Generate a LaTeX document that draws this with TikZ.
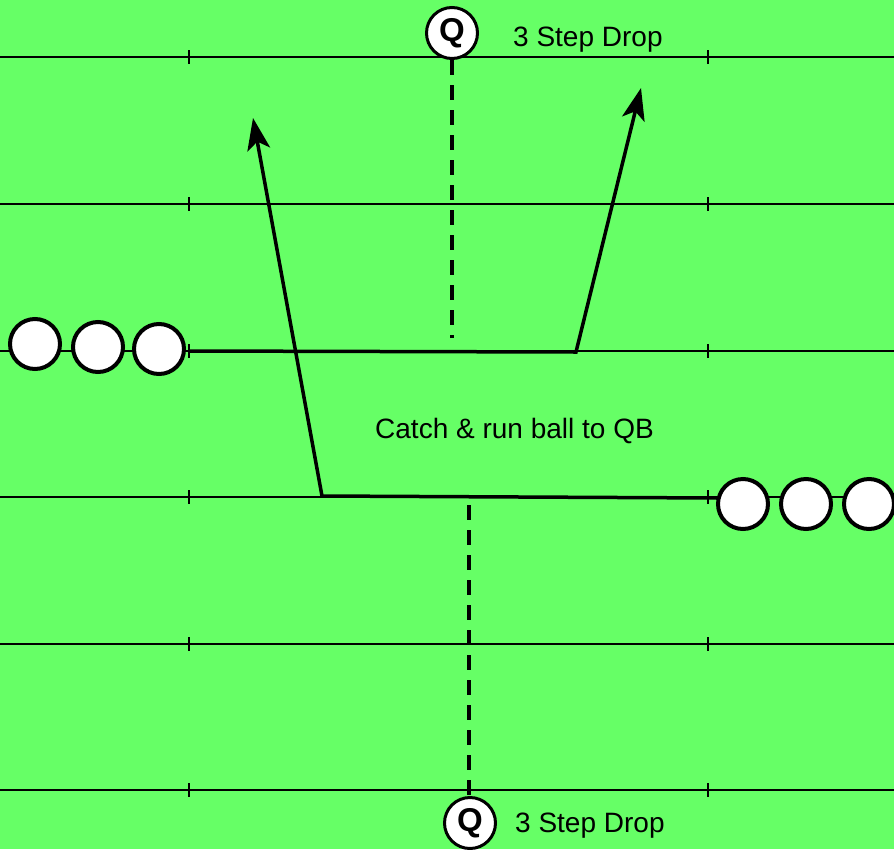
\documentclass[tikz,border=0pt]{standalone}
\usepackage{fontspec}
\setmainfont{Liberation Sans}
\usetikzlibrary{arrows.meta}
\definecolor{field}{HTML}{66FF66}
\begin{document}
\begin{tikzpicture}[x=1pt,y=-1pt,
  yard/.style={line width=1.8pt},
  yardtick/.style={line width=1.8pt},
  player/.style={circle,draw,fill=white,line width=4pt,minimum size=50pt,inner sep=0pt},
  qback/.style={player,line width=3pt,minimum size=51pt,font=\bfseries\fontsize{33}{36}\selectfont},
  route/.style={line width=3.5pt,line join=miter,-{Stealth[length=32pt,width=23pt,inset=8pt]}},
  drop/.style={line width=3.2pt,dash pattern=on 15pt off 10pt},
  lbl/.style={font=\fontsize{28}{30}\selectfont,inner sep=0pt}]
\fill[field] (0,0) rectangle (894,849);
\useasboundingbox (0,0) rectangle (894,849);
% yard lines and ticks
\foreach \y in {57,204,351,497,644,790}{
  \draw[yard] (0,\y) -- (894,\y);
  \draw[yardtick] (189,\y-7) -- (189,\y+7);
  \draw[yardtick] (708,\y-7) -- (708,\y+7);
}
% coordinates
\coordinate (s1) at (189,351);
\coordinate (b1) at (576,352);
\coordinate (t1) at (641,88);
\coordinate (s2) at (718,498);
\coordinate (b2) at (322,496);
\coordinate (t2) at (253,118);
\coordinate (d1s) at (452,60);
\coordinate (d1e) at (452,338);
\coordinate (d2s) at (469,505);
\coordinate (d2e) at (469,797);
% dashed drops
\draw[drop] (d1s) -- (d1e);
\draw[drop] (d2s) -- (d2e);
% routes
\draw[route] (s1) -- (b1) -- (t1);
\draw[route] (s2) -- (b2) -- (t2);
% players
\node[player] (lc1) at (35,344) {};
\node[player] (lc2) at (98,347) {};
\node[player] (lc3) at (159,349) {};
\node[player] (rc1) at (743,504) {};
\node[player] (rc2) at (806,504) {};
\node[player] (rc3) at (869,504) {};
\node[qback] (qt) at (452,33) {Q};
\node[qback] (qb) at (470,823) {Q};
% labels
\node[lbl,anchor=base west] (l1) at (513,46) {3 Step Drop};
\node[lbl,anchor=base west] (l2) at (515,832) {3 Step Drop};
\node[lbl,anchor=base west] (l3) at (375,438) {Catch \& run ball to QB};
\end{tikzpicture}
\end{document}
